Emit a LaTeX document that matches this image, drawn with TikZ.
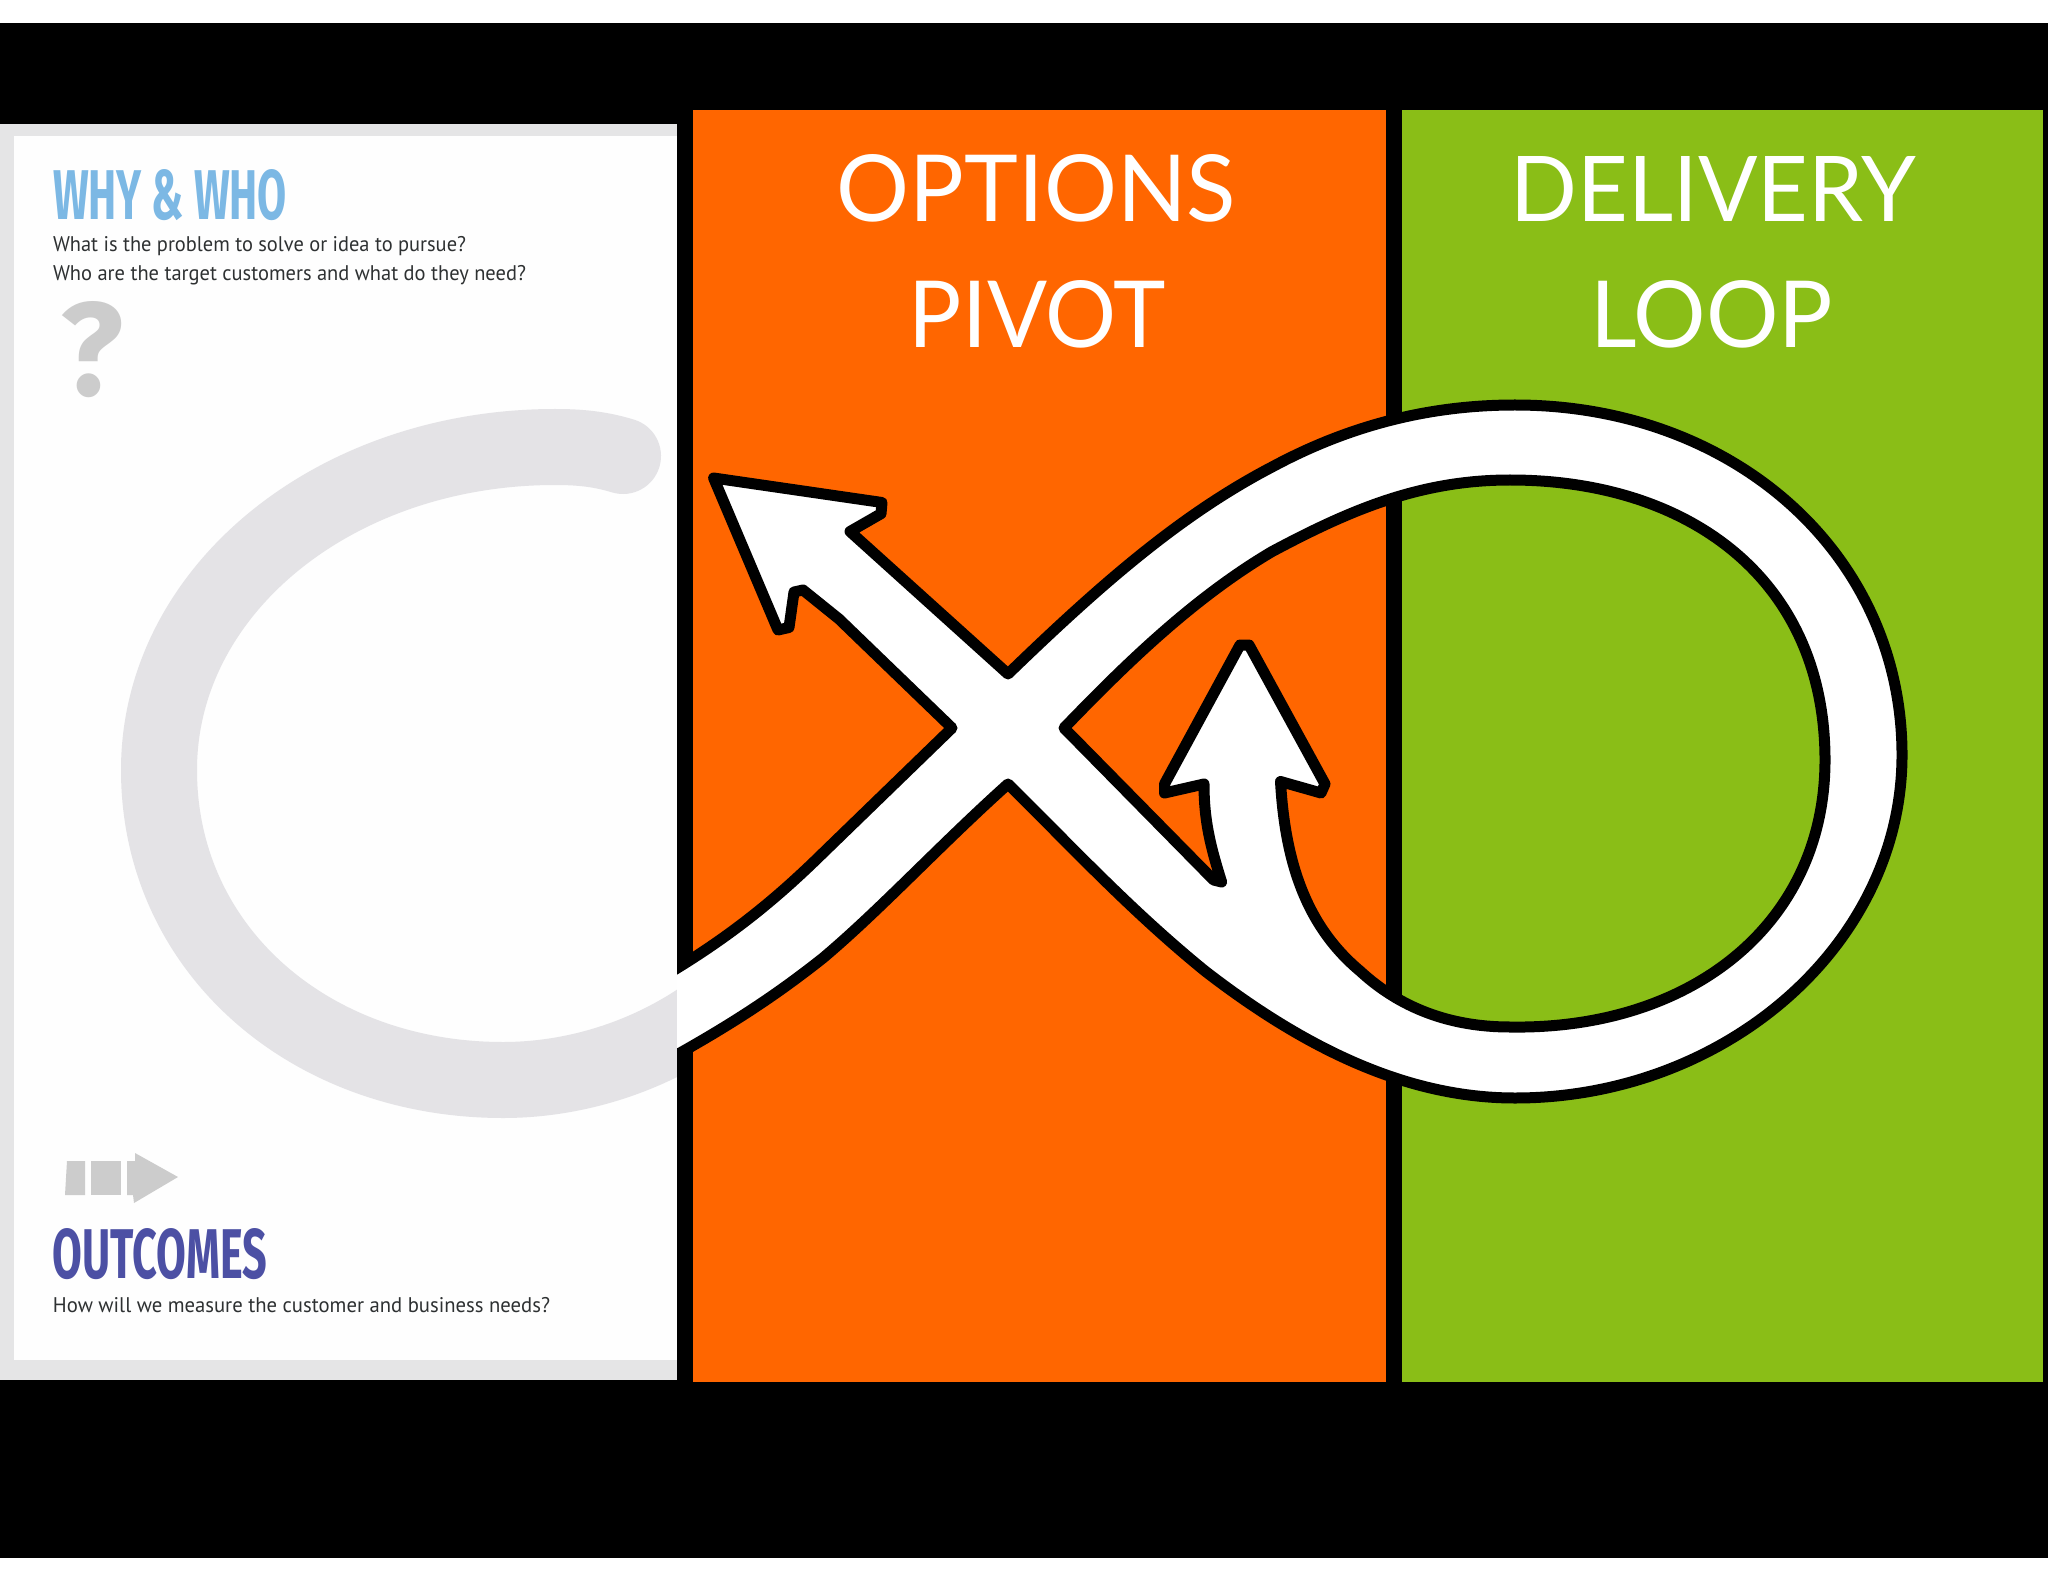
\documentclass[tikz,border=0pt]{standalone}
\usepackage{fontspec}
\usepackage{graphicx}
\setmainfont{Fira Sans}
\newfontfamily\lightfont{Lato}
\newfontfamily\bodyfont{PT Sans}
\newfontfamily\headfont{Fira Sans}[UprightFont=*,BoldFont=* Bold]
\definecolor{orangepanel}{HTML}{FF6600}
\definecolor{greenpanel}{HTML}{8ABE17}
\definecolor{paneledge}{HTML}{E5E5E6}
\definecolor{curvegray}{HTML}{E4E3E6}
\definecolor{icongray}{HTML}{CCCCCC}
\definecolor{paperwhite}{HTML}{FEFEFE}
\definecolor{bodytext}{HTML}{2E3132}
\definecolor{whyblue}{HTML}{7CB8E4}
\definecolor{outcomeblue}{HTML}{4C50A4}
\tikzset{
  plainlabel/.style={inner sep=0pt,outer sep=0pt,anchor=base west},
  biglabel/.style={inner sep=0pt,outer sep=0pt,anchor=base,text=white},
  ribbon/.style={fill=white,draw=black,line width=5.5pt,line join=round,even odd rule},
  icon/.style={fill=icongray,draw=none}
}
\newcommand{\fitw}[2]{\resizebox{#1}{\height}{#2}}
\newcommand{\fitwh}[3]{\resizebox{#1}{#2}{#3}}
\begin{document}
\begin{tikzpicture}[x=0.5pt,y=-0.5pt]
\useasboundingbox (0,0) rectangle (2048,1582);
\fill[white] (0,0) rectangle (2048,1582);
\fill[black] (0,23) rectangle (2048,1558);
\fill[paneledge] (0,124) rectangle (677,1380);
\fill[paperwhite] (14,136) rectangle (677,1360);
\fill[orangepanel] (693,110) rectangle (1386,1382);
\fill[greenpanel] (1402,110) rectangle (2043,1382);
% big C
\begin{scope}
\clip (0,124) rectangle (677,1380);
\draw[curvegray,line width=38pt,line cap=round]
  (623,456) .. controls (600,449) and (580,447) .. (555,447)
  .. controls (335,447) and (159,590) .. (159,770)
  .. controls (159,950) and (310,1080) .. (503,1080)
  .. controls (570,1080) and (640,1060) .. (700,1020);
\end{scope}
% left panel texts
\node[plainlabel,text=whyblue] (why) at (53,220) {\fitwh{117pt}{25pt}{\headfont\bfseries WHY \& WHO}};
\node[plainlabel,text=bodytext] (q1) at (53,252) {\fitw{206.5pt}{\bodyfont\fontsize{10.6pt}{12pt}\selectfont What is the problem to solve or idea to pursue?}};
\node[plainlabel,text=bodytext] (q2) at (53,281) {\fitw{236.5pt}{\bodyfont\fontsize{10.6pt}{12pt}\selectfont Who are the target customers and what do they need?}};
\node[inner sep=0pt,outer sep=0pt,anchor=north west,text=icongray] (qm) at (61,301) {\fitwh{31.5pt}{47pt}{\headfont\bfseries ?}};
\node[plainlabel,text=outcomeblue] (outcomes) at (53,1278) {\fitwh{107pt}{25pt}{\headfont\bfseries OUTCOMES}};
\node[plainlabel,text=bodytext] (q3) at (53,1312) {\fitw{248.5pt}{\bodyfont\fontsize{10.6pt}{12pt}\selectfont How will we measure the customer and business needs?}};
% arrow icon
\fill[icon] (67,1161) -- (85,1161) -- (85,1195) -- (65,1195) -- cycle;
\fill[icon] (91,1161) -- (121,1161) -- (121,1195) -- (91,1195) -- cycle;
\fill[icon] (127,1161) -- (135,1161) -- (135,1153) -- (178,1177) -- (134,1203) -- (133,1195) -- (127,1195) -- cycle;
% headings
\node[biglabel] (options) at (1036.5,222) {\fitwh{199.5pt}{33.5pt}{\lightfont OPTIONS}};
\node[biglabel] (pivot) at (1037.5,348) {\fitwh{128.5pt}{33.5pt}{\lightfont PIVOT}};
\node[biglabel] (delivery) at (1713.5,222) {\fitwh{202.5pt}{32.5pt}{\lightfont DELIVERY}};
\node[biglabel] (loop) at (1711.5,348) {\fitwh{121.5pt}{33.5pt}{\lightfont LOOP}};
% gutter
\fill[black] (677,110) rectangle (693,1382);
% ribbon
\begin{scope}
\clip (677,0) rectangle (2048,1582);
\path[ribbon]
  (713.6,478) -- (882,502.5) -- (881,513.7) -- (850,531.5) -- (1008,674)
  .. controls (1100,585) and (1180,515) .. (1272,467)
  .. controls (1350,425) and (1430,405) .. (1515,405)
  .. controls (1735,405) and (1902,555) .. (1902,755)
  .. controls (1902,945) and (1725,1098) .. (1515,1098)
  .. controls (1420,1098) and (1320,1060) .. (1205,971)
  .. controls (1130,910) and (1070,845) .. (1008,784)
  .. controls (940,845) and (880,910) .. (823,958)
  .. controls (770,1000) and (720,1032) .. (640,1075)
  -- (640,990)
  .. controls (720,945) and (770,905) .. (823,853)
  -- (952,728) -- (839,619) -- (803,590) -- (794,592) -- (789,627.5) -- (778,630) -- cycle
  (1064,728) -- (1213.6,880) -- (1221.6,882) .. controls (1210,845) and (1204,820) .. (1204,784) -- (1164.5,793) -- (1164.5,784) -- (1240,645) -- (1249,645) -- (1325,784) -- (1321,793) -- (1280.5,781.5)
  .. controls (1285,860) and (1305,925) .. (1360,971)
  .. controls (1400,1008) and (1450,1027) .. (1510,1027)
  .. controls (1690,1030) and (1825,925) .. (1825,760)
  .. controls (1825,580) and (1690,480) .. (1510,480)
  .. controls (1420,480) and (1350,510) .. (1272,551.6)
  .. controls (1190,600) and (1120,670) .. (1064,728)
  -- cycle;
\end{scope}
\end{tikzpicture}
\end{document}
